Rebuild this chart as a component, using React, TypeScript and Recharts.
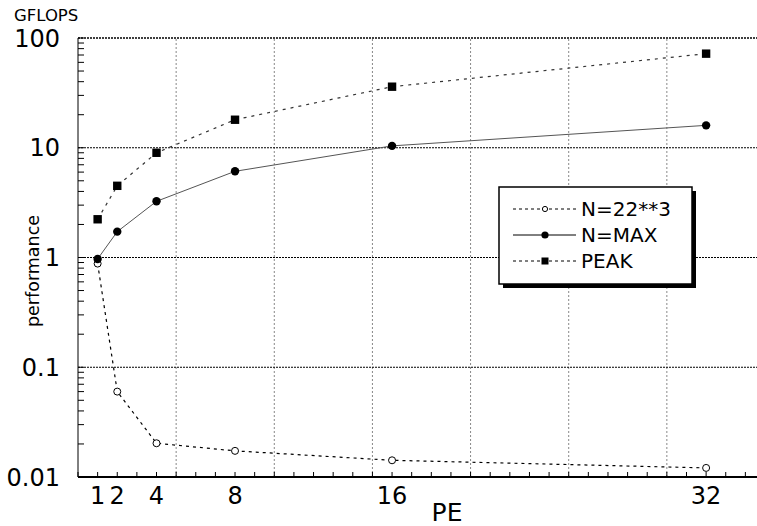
import React from 'react';
import {
  LineChart,
  Line,
  XAxis,
  YAxis,
  ReferenceLine,
  Legend,
  Customized,
} from 'recharts';

// ---- data ----
const PE = [1, 2, 4, 8, 16, 32];
const N22 = [0.88, 0.06, 0.0203, 0.0173, 0.0142, 0.0121];
const NMAX = [0.97, 1.72, 3.25, 6.1, 10.4, 16.0];
const PEAK = [2.23, 4.5, 9.0, 18.0, 36.0, 72.0];

const SERIES_NAMES = ['N=22**3', 'N=MAX', 'PEAK'];

const X_LABELS = [1, 2, 4, 8, 16, 32];
const X_MINOR = [
  0, 1, 2, 3, 4, 5, 6, 7, 8, 9, 10, 11, 12, 13, 14, 15, 16, 17, 18, 19, 20,
  21, 22, 23, 24, 25, 26, 27, 28, 29, 30, 31, 32, 33, 34, 35,
];
const V_GRID = [5, 10, 15, 20, 25, 30];

const Y_DECADES = [0.01, 0.1, 1, 10, 100];
const Y_LABELS = ['0.01', '0.1', '1', '10', '100'];
const Y_MANTISSA = [1, 2, 3, 4, 5, 6, 7, 8, 9];
const Y_TICKS = [0.01, 0.1, 1, 10]
  .flatMap((d) => Y_MANTISSA.map((m) => +(m * d).toPrecision(3)))
  .concat([100]);

const data = PE.map((pe, i) => ({
  pe,
  n22: N22[i],
  nmax: NMAX[i],
  peak: PEAK[i],
}));

const FONT = '"DejaVu Sans", sans-serif';

// ---- ticks ----
const BottomTick = (props: any) => {
  const { x, y, payload } = props;
  const v = payload.value;
  const show = X_LABELS.includes(v);
  return (
    <g>
      <line x1={x} x2={x} y1={y} y2={y - 5} stroke="#000" strokeWidth={1} />
      {show && (
        <text x={x} y={y + 27} textAnchor="middle" fontFamily={FONT} fontSize={24} fill="#000">
          {v}
        </text>
      )}
    </g>
  );
};

const TopTick = (props: any) => {
  const { x, y } = props;
  return <line x1={x} x2={x} y1={y} y2={y + 5} stroke="#000" strokeWidth={1} />;
};

const LeftTick = (props: any) => {
  const { x, y, payload } = props;
  const v = payload.value;
  const idx = Y_DECADES.findIndex((d) => Math.abs(d - v) < d * 1e-6);
  return (
    <g>
      <line x1={x} x2={x + 6} y1={y} y2={y} stroke="#000" strokeWidth={1} />
      {idx >= 0 && (
        <text x={x - 18} y={y + 8.5} textAnchor="end" fontFamily={FONT} fontSize={24} fill="#000">
          {Y_LABELS[idx]}
        </text>
      )}
    </g>
  );
};

// ---- dots ----
const OpenDot = (p: any) => (
  <circle key={`o${p.index}`} cx={p.cx} cy={p.cy} r={3.5} fill="#fff" stroke="#000" strokeWidth={1} />
);
const FilledDot = (p: any) => (
  <circle key={`f${p.index}`} cx={p.cx} cy={p.cy} r={4.2} fill="#000" stroke="none" />
);
const SquareDot = (p: any) => (
  <rect key={`s${p.index}`} x={p.cx - 4.2} y={p.cy - 4.2} width={8.4} height={8.4} fill="#000" stroke="none" />
);

// ---- legend ----
const LegendBox = (props: any) => {
  const payload = props.payload || [];
  const names = payload.length ? payload.map((e: any) => e.value) : SERIES_NAMES;
  const rows = [24, 50, 76];
  return (
    <svg width={206} height={108} style={{ display: 'block' }}>
      <rect x={6} y={6} width={193} height={97} fill="#000" />
      <rect x={2} y={2} width={193} height={97} fill="#fff" stroke="#000" strokeWidth={1.5} />
      {names.map((name: string, i: number) => {
        const y = rows[i];
        return (
          <g key={name}>
            <line
              x1={16}
              x2={79}
              y1={y}
              y2={y}
              stroke="#000"
              strokeWidth={1}
              strokeDasharray={i === 1 ? undefined : '3 3'}
            />
            {i === 0 && <circle cx={48} cy={y} r={2.6} fill="#fff" stroke="#000" strokeWidth={1} />}
            {i === 1 && <circle cx={48} cy={y} r={3.6} fill="#000" />}
            {i === 2 && <rect x={44.5} y={y - 3.5} width={7} height={7} fill="#000" />}
            <text x={84} y={y + 7} fontFamily={FONT} fontSize={20} fill="#000">
              {name}
            </text>
          </g>
        );
      })}
    </svg>
  );
};

const Texts = () => (
  <g>
    <text x={14} y={21} fontFamily={FONT} fontSize={16.5} fill="#000">
      GFLOPS
    </text>
    <text
      x={39}
      y={271}
      textAnchor="middle"
      fontFamily={FONT}
      fontSize={17.5}
      fill="#000"
      transform="rotate(-90 39 271)"
    >
      performance
    </text>
    <text x={447} y={521} textAnchor="middle" fontFamily={FONT} fontSize={25} fill="#000">
      PE
    </text>
  </g>
);

export default function App() {
  return (
    <div
      style={{
        position: 'absolute',
        left: 0,
        top: 0,
        width: 757,
        height: 526,
        overflow: 'hidden',
        background: '#fff',
      }}
    >
      <LineChart
        width={800}
        height={526}
        data={data}
        margin={{ top: 38, right: 35, bottom: 0, left: 0 }}
      >
        <XAxis
          dataKey="pe"
          type="number"
          domain={[0, 35]}
          ticks={X_MINOR}
          interval={0}
          height={49}
          tickSize={0}
          tickMargin={0}
          tickLine={false}
          tick={<BottomTick />}
          axisLine={{ stroke: '#000', strokeWidth: 2 }}
          allowDataOverflow
        />
        <XAxis
          xAxisId="top"
          orientation="top"
          dataKey="pe"
          type="number"
          domain={[0, 35]}
          ticks={X_MINOR}
          interval={0}
          height={0}
          tickSize={0}
          tickMargin={0}
          tickLine={false}
          tick={<TopTick />}
          axisLine={false}
          allowDataOverflow
        />
        <YAxis
          type="number"
          scale="log"
          domain={[0.01, 100]}
          ticks={Y_TICKS}
          interval={0}
          width={78}
          tickSize={0}
          tickMargin={0}
          tickLine={false}
          tick={<LeftTick />}
          axisLine={{ stroke: '#000', strokeWidth: 1 }}
          allowDataOverflow
        />
        {V_GRID.map((v) => (
          <ReferenceLine
            key={`v${v}`}
            x={v}
            stroke="#888"
            strokeWidth={1}
            strokeDasharray="2 2"
            ifOverflow="extendDomain"
          />
        ))}
        {Y_DECADES.map((v) => (
          <ReferenceLine
            key={`h${v}`}
            y={v}
            stroke="#000"
            strokeWidth={v === 100 ? 1.5 : 1}
            strokeDasharray="2 1"
          />
        ))}
        <Line
          name={SERIES_NAMES[0]}
          dataKey="n22"
          stroke="#000"
          strokeWidth={1.2}
          strokeDasharray="3 4"
          dot={OpenDot}
          activeDot={false}
          isAnimationActive={false}
        />
        <Line
          name={SERIES_NAMES[1]}
          dataKey="nmax"
          stroke="#555"
          strokeWidth={1}
          dot={FilledDot}
          activeDot={false}
          isAnimationActive={false}
        />
        <Line
          name={SERIES_NAMES[2]}
          dataKey="peak"
          stroke="#333"
          strokeWidth={1.2}
          strokeDasharray="3 5"
          dot={SquareDot}
          activeDot={false}
          isAnimationActive={false}
        />
        <Legend
          layout="horizontal"
          verticalAlign="middle"
          align="center"
          content={<LegendBox />}
          wrapperStyle={{ left: 497, top: 185, width: 206, height: 108 }}
        />
        <Customized component={Texts} />
      </LineChart>
    </div>
  );
}
